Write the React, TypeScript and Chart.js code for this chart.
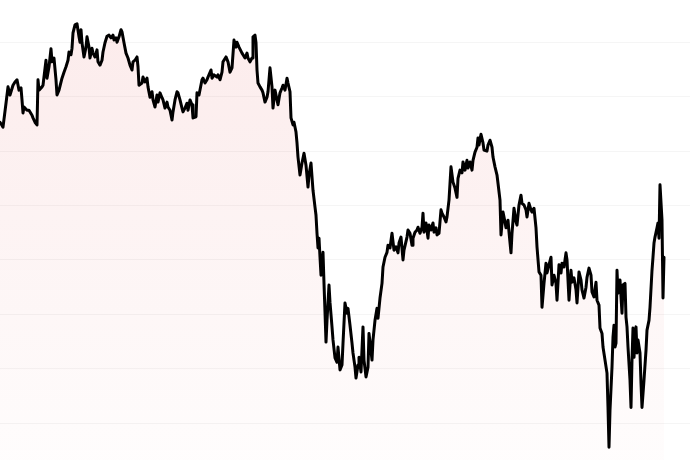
import React, { useEffect, useRef } from "react";
import { Chart, registerables } from "chart.js";

Chart.register(...registerables);

// Trading day index of each observation
const days: number[] = [
  0, 3, 6, 8, 10, 13, 15, 17, 19, 21, 22, 23, 24, 27, 29, 32, 33, 35, 37, 38,
  39, 42, 43, 46, 47, 49, 51, 52, 54, 56, 57, 59, 62, 64, 66, 68, 69, 71, 72, 73,
  75, 77, 79, 80, 81, 82, 84, 86, 87, 89, 90, 92, 93, 95, 97, 98, 100, 102, 103, 105,
  107, 109, 111, 113, 114, 116, 117, 119, 121, 122, 124, 126, 128, 130, 132, 133, 135, 137, 138, 139,
  142, 143, 145, 147, 148, 150, 152, 153, 155, 157, 158, 160, 162, 163, 165, 167, 168, 170, 172, 173,
  175, 177, 178, 180, 182, 183, 185, 187, 188, 190, 192, 193, 196, 197, 199, 202, 203, 205, 207, 208,
  211, 212, 214, 217, 218, 220, 222, 223, 226, 228, 230,
  232, 234, 236, 237, 239, 242, 243, 245, 247, 248, 250, 252, 253, 255, 256, 257, 258, 260, 262, 263,
  265, 267, 268, 270, 272, 273, 275, 277, 278, 280, 282, 283, 285, 287, 288, 290, 291, 293, 294, 296,
  297, 298, 300, 302, 304, 306, 308, 309, 311, 313, 315, 316, 317, 318, 319, 320, 321, 323, 324, 325,
  326, 327, 329, 330, 332, 333, 335, 337, 338, 340, 342, 343, 345, 347, 348, 350, 352, 353, 355, 356,
  358, 359, 361, 363, 364, 366, 368, 369, 372, 373, 375, 377, 378, 380, 382, 383, 385, 387, 388, 390,
  392, 394, 396, 398, 399, 401, 403, 404, 407, 408, 410, 412, 413, 415, 417, 418, 420, 422, 423, 424,
  426, 428, 429, 431, 433, 434, 436, 437, 439, 441, 442, 444, 446, 447, 449, 451, 453, 455, 457, 458,
  460, 462, 463, 465, 467, 468, 470, 472, 473, 475, 477, 478, 479, 481, 483, 484, 487, 488, 490, 492,
  493, 495, 497, 498, 500, 501, 503, 504, 506, 508, 509, 511, 512, 514, 516, 517, 519, 521, 522, 524,
  526, 527, 529, 531, 532, 534, 536, 537, 539, 541, 542, 544, 546, 547, 549, 551, 552, 554, 556, 557,
  559, 561, 562, 564, 566, 567, 569, 571, 572, 574, 576, 577, 579, 581, 582, 584, 586, 587, 589, 591,
  592, 594, 596, 597, 599, 600, 602, 603, 605, 607, 608, 609, 610, 612, 613, 614, 615, 616, 617, 618,
  620, 622, 623, 625, 626, 627, 628, 630, 631, 632, 633, 634, 636, 637, 638, 640, 641, 642, 644, 646,
  647, 649, 650, 652, 653, 654, 655, 657, 658, 659, 660, 662, 663, 664,
];

// Closing value at each observation
const prices: number[] = [
  155.3, 154.4, 158.8, 161.8, 160.3, 162.1, 162.7, 163.1, 161.2, 161.6, 159.4, 157.0, 158.1, 157.5, 157.5, 156.6, 156.1, 155.3, 154.8, 163.1,
  161.2, 161.8, 162.1, 166.7, 163.4, 165.5, 168.8, 166.4, 167.1, 163.1, 160.3, 161.2, 163.4, 164.5, 165.5, 166.7, 168.2, 167.7, 168.9, 171.7,
  173.2, 173.4, 171.0, 170.0, 172.3, 169.9, 167.3, 169.1, 171.0, 169.1, 167.1, 168.9, 168.0, 167.3, 168.6, 166.4, 165.8, 166.7, 168.2, 169.9,
  171.1, 171.3, 170.8, 171.3, 170.4, 170.8, 170.0, 171.0, 172.3, 171.9, 169.9, 168.0, 167.1, 165.8, 164.9, 166.4, 166.7, 167.3, 165.5, 162.1,
  162.5, 163.6, 162.7, 163.4, 161.8, 159.9, 160.9, 159.4, 158.1, 160.3, 159.0, 160.7, 159.8, 159.4, 157.9, 159.0, 158.1, 157.5, 155.7, 157.2,
  159.4, 160.9, 160.7, 159.4, 157.9, 157.2, 157.9, 158.8, 157.5, 159.4, 158.5, 156.1, 156.3, 160.7, 160.3, 163.1, 163.4, 162.5, 163.1, 163.6,
  164.9, 163.4, 164.0, 163.6, 164.0, 163.1, 164.5, 166.4, 167.3, 166.4, 164.5,
  165.3, 170.4, 169.1, 170.0, 169.1, 168.0, 167.7, 167.1, 168.0, 167.1, 166.4, 167.1, 171.0, 171.3, 169.9, 164.9, 162.5, 161.8, 161.2, 160.7,
  159.0, 159.9, 160.9, 165.3, 161.8, 157.9, 161.2, 159.4, 158.5, 160.7, 161.6, 162.1, 161.2, 163.4, 162.5, 160.9, 156.1, 154.8, 155.3, 153.5,
  151.5, 148.9, 145.6, 147.8, 149.6, 147.4, 143.4, 145.6, 147.8, 142.8, 139.7, 138.2, 134.9, 132.2, 134.0, 130.5, 127.2, 131.4, 125.7, 120.4,
  114.9, 118.9, 125.4, 122.2, 117.7, 115.3, 112.0, 111.2, 114.0, 109.8, 110.7, 114.7, 122.1, 120.2, 121.1, 118.0, 114.7, 112.9, 110.3, 108.3,
  110.7, 112.1, 109.4, 117.7, 111.6, 108.5, 110.3, 116.5, 111.6, 115.3, 118.9, 121.1, 119.3, 123.0, 125.7, 128.7, 130.5, 131.4, 132.7, 132.2,
  134.9, 131.8, 132.4, 131.3, 133.1, 134.2, 130.0, 131.8, 134.2, 135.5, 134.9, 132.7, 134.0, 135.1, 135.5, 136.0, 134.9, 136.0, 138.6, 135.1,
  136.8, 134.0, 136.4, 135.5, 136.8, 135.1, 135.9, 134.6, 134.9, 139.2, 138.6, 137.9, 137.0, 137.9, 141.0, 147.1, 144.3, 143.2, 141.5, 145.0,
  146.5, 146.0, 148.0, 146.5, 148.3, 146.9, 148.0, 146.5, 148.3, 149.8, 150.7, 152.4, 151.1, 153.1, 151.5, 150.2, 150.0, 151.1, 152.0, 150.7,
  148.9, 147.1, 145.6, 144.1, 141.0, 134.6, 138.8, 137.9, 135.9, 137.3, 135.1, 131.3, 134.9, 139.5, 137.0, 136.4, 140.1, 141.9, 140.4, 140.1,
  139.2, 137.9, 140.4, 139.2, 138.8, 139.5, 135.9, 132.4, 127.8, 127.2, 121.3, 125.7, 129.4, 127.6, 129.1, 130.5, 125.4, 127.2, 125.7, 122.6,
  129.1, 127.6, 129.4, 128.7, 131.3, 130.0, 122.6, 128.1, 125.9, 126.7, 124.5, 122.1, 127.8, 126.3, 124.5, 123.0, 125.0, 126.8, 128.5, 127.2,
  124.1, 123.2, 125.9, 122.6, 121.7, 117.5, 116.5, 114.0, 111.6, 109.2, 102.9, 95.6, 102.4, 110.3, 115.8, 118.0, 114.0, 114.7, 128.1, 123.9,
  126.3, 120.2, 125.4, 125.7, 119.5, 117.7, 114.0, 107.9, 102.9, 111.6, 117.5, 112.1, 117.7, 112.9, 115.3, 112.9, 107.4, 102.9, 107.9, 113.4,
  117.1, 118.9, 121.3, 128.1, 130.5, 133.1, 134.2, 135.9, 136.8, 134.0, 143.8, 137.3, 123.0, 130.5,
];

// Horizontal grid values
const yTicks: number[] = [100, 110, 120, 130, 140, 150, 160, 170];
const yMin = 93.24;
const yMax = 177.76;
const dayMin = 0;
const dayMax = 690;

export default function App() {
  const canvasRef = useRef<HTMLCanvasElement | null>(null);

  useEffect(() => {
    document.body.style.margin = "0";
    const canvas = canvasRef.current;
    if (!canvas) return;
    const points = days.map((d, i) => ({ x: d, y: prices[i] }));
    const chart = new Chart(canvas, {
      type: "line",
      data: {
        datasets: [
          {
            data: points,
            borderColor: "#000000",
            borderWidth: 3,
            borderJoinStyle: "round",
            borderCapStyle: "round",
            pointRadius: 0,
            tension: 0,
            fill: "start",
            backgroundColor: (ctx: any) => {
              const area = ctx.chart.chartArea;
              if (!area) return "rgba(220,50,50,0.06)";
              const g = ctx.chart.ctx.createLinearGradient(0, area.top, 0, area.bottom);
              g.addColorStop(0, "rgba(220,50,50,0.10)");
              g.addColorStop(1, "rgba(220,50,50,0.01)");
              return g;
            },
          },
        ],
      },
      options: {
        animation: false,
        responsive: true,
        maintainAspectRatio: false,
        layout: { padding: 0 },
        plugins: {
          legend: { display: false },
          tooltip: { enabled: false },
        },
        scales: {
          x: {
            type: "linear",
            min: dayMin,
            max: dayMax,
            display: false,
          },
          y: {
            min: yMin,
            max: yMax,
            display: true,
            afterBuildTicks: (axis: any) => {
              axis.ticks = yTicks.map((v) => ({ value: v }));
            },
            ticks: { display: false },
            border: { display: false },
            grid: {
              color: "rgba(0,0,0,0.04)",
              lineWidth: 1,
              drawTicks: false,
            },
          },
        },
      },
    });
    return () => chart.destroy();
  }, []);

  return (
    <div style={{ position: "relative", width: "690px", height: "460px" }}>
      <canvas ref={canvasRef} />
    </div>
  );
}
